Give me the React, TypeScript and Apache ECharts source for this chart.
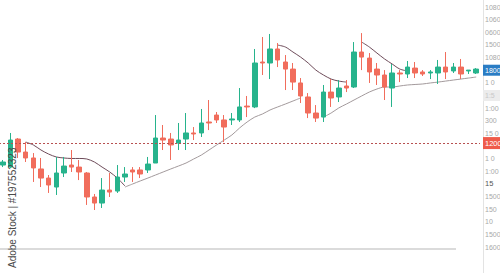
import React, { useEffect, useRef } from "react";
import * as echarts from "echarts";

const categories = Array.from({ length: 63 }, (_, i) => String(i + 1));

const openValues = [64.9, 63.3, 85.5, 75.2, 70.5, 61.8, 54.6, 47.5, 58.6, 64.9, 63.3, 58.6, 39.6, 34.8, 45.1, 44.3, 55.4, 61.0, 61.0, 61.0, 66.5, 86.3, 85.5, 82.3, 85.5, 90.3, 90.3, 99.0, 104.5, 100.6, 100.6, 100.6, 111.6, 110.9, 146.5, 145.7, 156.8, 146.5, 140.9, 129.9, 118.8, 106.1, 102.9, 122.7, 118.8, 127.5, 126.7, 154.4, 149.6, 140.9, 136.2, 125.9, 137.8, 137.0, 141.7, 138.6, 137.8, 137.8, 142.5, 139.4, 142.5, 139.4, 137.8];
const closeValues = [67.3, 84.7, 75.2, 70.5, 62.6, 54.6, 49.1, 58.6, 64.1, 63.3, 59.4, 39.6, 34.8, 45.1, 43.5, 55.4, 57.8, 59.4, 57.8, 65.7, 86.3, 84.7, 80.8, 84.7, 90.3, 89.5, 98.2, 98.2, 100.6, 95.0, 101.4, 110.9, 110.9, 145.7, 145.7, 156.8, 148.1, 140.9, 130.6, 119.6, 106.1, 102.1, 122.7, 118.0, 125.9, 125.9, 154.4, 150.4, 138.6, 136.2, 126.7, 137.8, 137.0, 142.5, 137.8, 137.0, 138.6, 142.5, 138.6, 142.5, 137.0, 140.1, 140.9];
const lowValues = [63.3, 62.6, 70.5, 67.3, 51.5, 47.5, 42.8, 41.2, 55.4, 59.4, 53.0, 33.3, 29.3, 30.9, 39.6, 42.8, 51.5, 51.5, 54.6, 58.6, 66.5, 76.8, 68.9, 76.8, 76.8, 84.7, 87.1, 92.6, 98.2, 83.1, 96.6, 99.0, 102.9, 110.0, 136.2, 133.0, 142.5, 124.3, 124.3, 114.0, 102.1, 99.0, 99.0, 110.9, 114.8, 122.7, 125.9, 140.1, 129.9, 128.3, 116.4, 110.9, 130.6, 133.8, 133.8, 135.4, 133.0, 129.1, 133.0, 137.8, 133.0, 137.0, 137.0];
const highValues = [68.9, 90.3, 86.3, 83.1, 74.4, 70.5, 57.0, 71.3, 71.3, 76.8, 68.9, 59.4, 42.0, 54.6, 58.6, 64.9, 63.3, 63.3, 63.3, 71.3, 104.5, 96.6, 90.3, 98.2, 106.1, 95.0, 109.3, 116.4, 106.9, 104.5, 106.1, 125.9, 119.6, 156.8, 166.3, 168.7, 161.5, 152.0, 145.7, 133.8, 121.9, 112.4, 128.3, 133.0, 132.2, 132.2, 162.3, 169.4, 153.6, 145.7, 140.1, 144.9, 140.1, 147.3, 146.5, 140.1, 140.1, 148.1, 154.4, 145.7, 148.9, 140.1, 141.7];

const N = null;
const maShort = [N, N, N, 83.1, 80.8, 76.8, 73.6, 71.3, 70.5, 70.1, 70.1, 69.7, 67.3, 63.3, 59.4, 54.6, 48.3,
  N, N, N, N, N, N, N, N, N, N, N, N, N, N, N, N, N, N, N,
  159.9, 158.4, 154.4, 150.4, 145.7, 140.1, 136.2, 133.0, 131.4, 130.6, N,
  162.3, 158.4, 153.6, 148.9, 144.9, 140.9, 139.4, N, N, N, N, N, N, N, N, N];
const maLong = [N, N, N, N, N, N, N, N, N, N, N, N, N, N, N, N,
  47.5, 49.9, 52.3, 54.6, 57.0, 59.4, 61.8, 64.1, 66.5, 69.7, 72.8, 76.8, 80.8, 84.7, 88.7, 94.2, 99.0, 102.9, 105.3, 108.5, 110.9, 113.2, 115.6, 118.0,
  N, N,
  102.9, 106.1, 110.1, 113.2, 116.4, 119.6, 122.7, 125.1, 126.7, 126.7, 127.5, 128.3, 128.7, 129.1, 129.9, 130.6, 131.4, 132.2, 133.0, 133.8, 134.6];

// tick labels indexed by value / 10 (0 .. 190)
const tickLabels = ["1600", "1500", "10", "150", "1500", "15", "1:00", "1 0", "", "15 0", "300", "1:00", "1:5", "1 0", "18000", "10800", "15000", "0600", "10600", "10800"];
const lastPrice = 82.3;
const lastPriceLabel = "1200";
const watermarkText = "Adobe Stock | #197552323";

const GREEN = "#27b38c";
const RED = "#f16d5c";

export default function App() {
  const ref = useRef<HTMLDivElement>(null);
  useEffect(() => {
    const chart = echarts.init(ref.current!, null, { renderer: "svg" });
    const candles = openValues.map((o, i) => [o, closeValues[i], lowValues[i], highValues[i]]);
    chart.setOption({
      animation: false,
      backgroundColor: "#ffffff",
      grid: { left: -1, right: 20, top: 0, bottom: 26, containLabel: false, outerBoundsMode: "none" },
      xAxis: {
        type: "category",
        data: categories,
        boundaryGap: true,
        axisLine: { show: false },
        axisTick: { show: false },
        axisLabel: { show: false },
        splitLine: { show: false },
      },
      yAxis: {
        type: "value",
        position: "right",
        min: 0,
        max: 195.6,
        interval: 10,
        axisLine: { show: false },
        axisTick: { show: false },
        splitLine: { show: false },
        axisLabel: {
          margin: 3,
          fontSize: 7,
          color: "#a8a8a8",
          fontFamily: "Liberation Sans, Arial, sans-serif",
          formatter: (v: number) => {
            const idx = Math.round(v / 10);
            if (Math.abs(v - idx * 10) > 0.01) return "";
            const t = tickLabels[idx];
            if (!t) return "";
            if (idx === 14) return "{blue|" + t + "}";
            if (idx === 12) return "{gray|" + t + "}";
            if (idx === 5) return "{dark|" + t + "}";
            return "{base|" + t + "}";
          },
          rich: {
            base: { color: "#a8a8a8", fontSize: 7, padding: [0, 0, 0, 2] },
            dark: { color: "#555555", fontSize: 7.5, padding: [0, 0, 0, 2] },
            blue: { color: "#ffffff", fontSize: 7, backgroundColor: "#2a7cc4", padding: [2, 4, 2, 2] },
            gray: { color: "#c8c8c8", fontSize: 7, backgroundColor: "#ececec", padding: [2, 8, 2, 2] },
          },
        },
      },
      series: [
        {
          type: "line",
          data: maLong,
          smooth: 0.3,
          showSymbol: false,
          connectNulls: false,
          lineStyle: { color: "#a39a9c", width: 1 },
          z: 2,
        },
        {
          type: "line",
          data: maShort,
          smooth: 0.3,
          showSymbol: false,
          connectNulls: false,
          lineStyle: { color: "#6e4c5a", width: 1 },
          z: 2,
        },
        {
          type: "candlestick",
          data: candles,
          barWidth: 5,
          z: 3,
          itemStyle: {
            color: GREEN,
            color0: RED,
            borderColor: GREEN,
            borderColor0: RED,
            borderWidth: 1,
          },
          markLine: {
            silent: true,
            symbol: ["none", "none"],
            lineStyle: { color: "#b85050", type: [2, 2], width: 1 },
            label: {
              show: true,
              position: "end",
              distance: 3,
              formatter: lastPriceLabel,
              color: "#ffffff",
              fontSize: 7.5,
              backgroundColor: "#ef5b4a",
              padding: [2, 4, 2, 2],
              fontFamily: "Liberation Sans, Arial, sans-serif",
            },
            data: [{ yAxis: lastPrice }],
          },
        },
      ],
      graphic: [
        {
          type: "line",
          shape: { x1: 483.5, y1: 0, x2: 483.5, y2: 273 },
          style: { stroke: "#e3e3e3", lineWidth: 1 },
          silent: true,
        },
        {
          type: "line",
          shape: { x1: 0, y1: 249, x2: 456, y2: 249 },
          style: { stroke: "#cfcfcf", lineWidth: 1.5 },
          silent: true,
        },
        {
          type: "text",
          x: 12,
          y: 268,
          rotation: Math.PI / 2,
          z: 100,
          style: {
            text: watermarkText,
            fill: "#4a4a4a",
            font: "10px Liberation Sans, Arial, sans-serif",
            textAlign: "left",
            textVerticalAlign: "middle",
          },
          silent: true,
        },
      ],
    });
    return () => chart.dispose();
  }, []);
  return (
    <div
      ref={ref}
      style={{ position: "fixed", left: 0, top: 0, width: 500, height: 273, background: "#fff" }}
    />
  );
}
